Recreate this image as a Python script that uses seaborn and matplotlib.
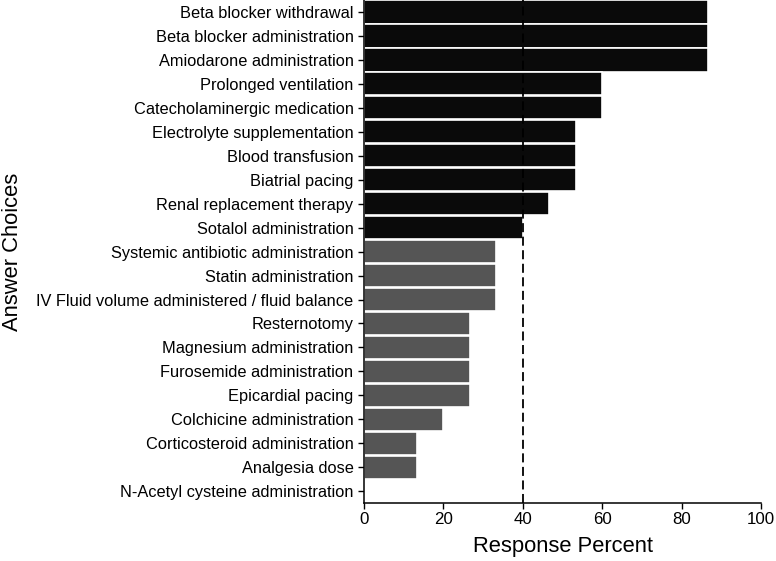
import matplotlib
matplotlib.use("Agg")
import matplotlib.pyplot as plt
import pandas as pd
import seaborn as sns

# Answer choices, top to bottom, with their response percent
choices = [
    "Beta blocker withdrawal",
    "Beta blocker administration",
    "Amiodarone administration",
    "Prolonged ventilation",
    "Catecholaminergic medication",
    "Electrolyte supplementation",
    "Blood transfusion",
    "Biatrial pacing",
    "Renal replacement therapy",
    "Sotalol administration",
    "Systemic antibiotic administration",
    "Statin administration",
    "IV Fluid volume administered / fluid balance",
    "Resternotomy",
    "Magnesium administration",
    "Furosemide administration",
    "Epicardial pacing",
    "Colchicine administration",
    "Corticosteroid administration",
    "Analgesia dose",
    "N-Acetyl cysteine administration",
]
percent = [
    86.67, 86.67, 86.67, 60.0, 60.0, 53.33, 53.33, 53.33, 46.67, 40.0,
    33.33, 33.33, 33.33, 26.67, 26.67, 26.67, 26.67, 20.0, 13.33, 13.33, 0.0,
]
threshold = 40

sns.set_theme(style="ticks")
plt.rcParams["font.family"] = ["Liberation Sans", "DejaVu Sans"]
plt.rcParams["text.color"] = "black"
plt.rcParams["axes.labelcolor"] = "black"

df = pd.DataFrame({"choice": choices, "percent": percent})
df["group"] = ["high" if p >= threshold else "low" for p in df["percent"]]

fig = plt.figure(figsize=(7.76, 5.61), dpi=100)
ax = fig.add_axes([0.469, 0.103, 0.512, 0.897])

sns.barplot(
    data=df, y="choice", x="percent", hue="group",
    palette={"high": "#0a0a0a", "low": "#555555"},
    dodge=False, legend=False, width=0.97,
    edgecolor="white", linewidth=1.2, ax=ax,
)
ax.axvline(threshold, color="black", linestyle=(0, (5, 2.5)), linewidth=1.3, zorder=5)

ax.set_xlim(0, 100)
ax.set_ylim(20.5, -0.5)
ax.set_xticks([0, 20, 40, 60, 80, 100])
ax.tick_params(axis="y", labelsize=11.8, length=4, width=1, colors="black")
ax.tick_params(axis="x", labelsize=12.2, length=4, width=1, colors="black", pad=2)
ax.set_xlabel("Response Percent", fontsize=15.8, labelpad=7)
ax.set_ylabel("Answer Choices", fontsize=15.8, labelpad=10)
for side in ["top", "right"]:
    ax.spines[side].set_visible(False)
for side in ["left", "bottom"]:
    ax.spines[side].set_linewidth(1.1)
    ax.spines[side].set_color("black")

fig.savefig("out.png", dpi=100)
